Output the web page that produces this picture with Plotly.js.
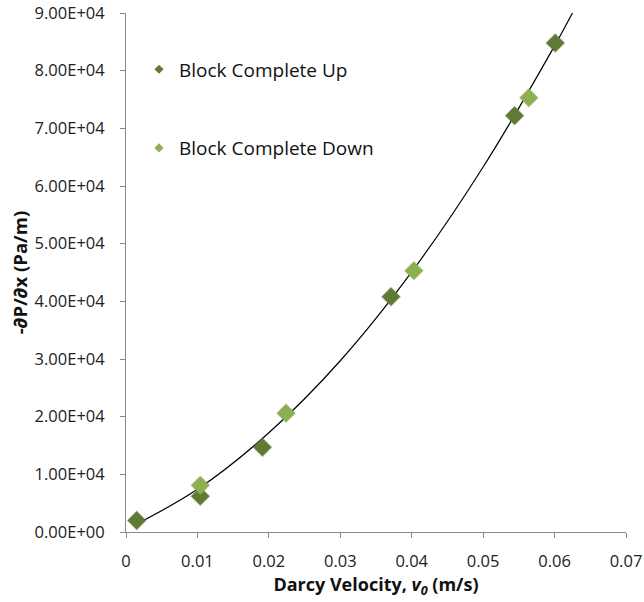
<!DOCTYPE html>
<html>
<head>
<meta charset="utf-8">
<script src="https://cdn.plot.ly/plotly-3.0.1.min.js"></script>
<style>html,body{margin:0;padding:0;background:#fff;}#chart{width:644px;height:602px;}</style>
</head>
<body>
<div id="chart"></div>
<script>
// Data
const upX = [0.0015, 0.0104, 0.0191, 0.0371, 0.0544, 0.0601];
const upY = [2000, 6200, 14700, 40800, 72200, 84800];
const downX = [0.0104, 0.0224, 0.0403, 0.0564];
const downY = [8100, 20600, 45300, 75300];
// Trendline
const trendX = [0.0015, 0.01, 0.02, 0.03, 0.04, 0.05, 0.06, 0.0625];
const trendY = [1400, 7400, 17200, 29700, 45100, 63300, 84300, 90000];
// Axis ticks
const yTickVals = [0, 10000, 20000, 30000, 40000, 50000, 60000, 70000, 80000, 90000];
const yTickText = ["0.00E+00","1.00E+04","2.00E+04","3.00E+04","4.00E+04","5.00E+04","6.00E+04","7.00E+04","8.00E+04","9.00E+04"];
const xTickVals = [0, 0.01, 0.02, 0.03, 0.04, 0.05, 0.06, 0.07];
const xTickText = ["0","0.01","0.02","0.03","0.04","0.05","0.06","0.07"];
const seriesNames = ["Block Complete Up", "Block Complete Down"];

const darkGreen = "#5e7a34";
const lightGreen = "#8eae52";
const FONT = "'Open Sans', sans-serif";

const traces = [
  {x: trendX, y: trendY, mode: "lines", line: {color: "#000", width: 1.2, shape: "spline"}, showlegend: false, hoverinfo: "skip"},
  {x: upX, y: upY, mode: "markers", marker: {symbol: "diamond", size: 14, color: darkGreen, line: {color: "rgba(94,122,52,0.35)", width: 1.5}}, showlegend: false},
  {x: downX, y: downY, mode: "markers", marker: {symbol: "diamond", size: 14, color: lightGreen, line: {color: "rgba(142,174,82,0.35)", width: 1.5}}, showlegend: false},
  {x: [null], y: [null], mode: "markers", name: seriesNames[0], marker: {symbol: "diamond", size: 7, color: darkGreen}, legendgroup: "a"},
  {x: [null], y: [null], mode: "markers", name: seriesNames[1], marker: {symbol: "diamond", size: 7, color: lightGreen}, legendgroup: "b"}
];

const axisCommon = {
  showline: true, linecolor: "#898989", linewidth: 1,
  ticks: "outside", ticklen: 5, tickcolor: "#898989",
  showgrid: false, zeroline: false,
  tickfont: {family: FONT, size: 16.5, color: "#222"}
};

const layout = {
  width: 644, height: 602,
  margin: {l: 126, r: 18, t: 13, b: 70},
  paper_bgcolor: "#fff", plot_bgcolor: "#fff",
  font: {family: FONT, color: "#111"},
  xaxis: Object.assign({}, axisCommon, {
    range: [0, 0.07], tickvals: xTickVals, ticktext: xTickText, ticklabelstandoff: 9,
    title: {text: "<b>Darcy Velocity, <i>v<sub>0</sub></i> (m/s)</b>", font: {family: FONT, size: 18, color: "#111"}, standoff: 6}
  }),
  yaxis: Object.assign({}, axisCommon, {
    range: [0, 90000], tickvals: yTickVals, ticktext: yTickText, ticklabelstandoff: 12,
    title: {text: "<b>-∂P/∂x (Pa/m)</b>", font: {family: FONT, size: 18.5, color: "#111"}, standoff: 2}
  }),
  legend: {
    x: 0.026, y: 0.928, xanchor: "left", yanchor: "top",
    bgcolor: "rgba(0,0,0,0)", font: {family: FONT, size: 19, color: "#111"},
    traceorder: "grouped", tracegroupgap: 51, itemwidth: 30
  },
  showlegend: true
};

Plotly.newPlot("chart", traces, layout, {staticPlot: true});
</script>
</body>
</html>
